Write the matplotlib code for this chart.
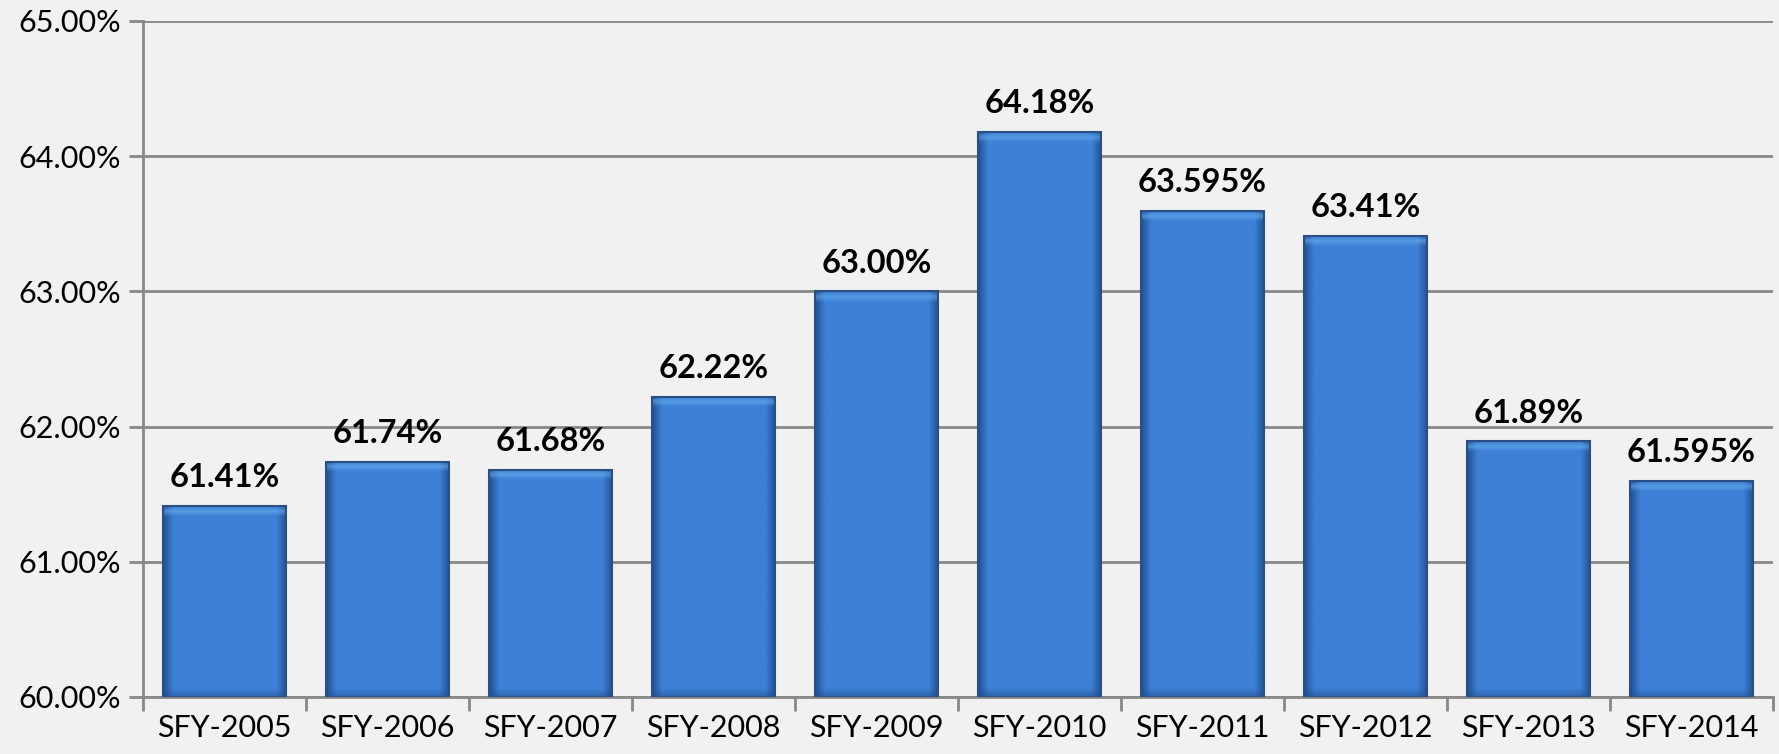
import matplotlib
matplotlib.use("Agg")
import matplotlib.pyplot as plt
import numpy as np

categories = ["SFY-2005", "SFY-2006", "SFY-2007", "SFY-2008", "SFY-2009",
              "SFY-2010", "SFY-2011", "SFY-2012", "SFY-2013", "SFY-2014"]
values = [61.41, 61.74, 61.68, 62.22, 63.00, 64.18, 63.595, 63.41, 61.89, 61.595]
labels = ["61.41%", "61.74%", "61.68%", "62.22%", "63.00%",
          "64.18%", "63.595%", "63.41%", "61.89%", "61.595%"]
yticks = [60, 61, 62, 63, 64, 65]
ytick_labels = ["60.00%", "61.00%", "62.00%", "63.00%", "64.00%", "65.00%"]

plt.rcParams['font.family'] = ['Lato', 'DejaVu Sans']

fig = plt.figure(figsize=(17.79, 7.54), dpi=100, facecolor="#f1f1f1")
ax = fig.add_axes([143/1779, 1 - 697/754, (1773-143)/1779, (697-21)/754])
ax.set_facecolor("#f1f1f1")

x = np.arange(len(categories))
bars = ax.bar(x, [v - 60 for v in values], bottom=60, width=0.76,
              color="#3a78cc", edgecolor="#24508a", linewidth=1.2, zorder=3)

# bevel-like gradient image
h, w = 200, 100
xx = np.linspace(0, 1, w)
yy = np.linspace(0, 1, h)
X, Y = np.meshgrid(xx, yy)
base = np.array([0x3d, 0x80, 0xd6]) / 255.0
dark = np.array([0x1f, 0x4c, 0x8c]) / 255.0
light = np.array([0x6a, 0xb0, 0xf0]) / 255.0
img = np.ones((h, w, 3)) * base
edge = np.clip(np.minimum(X, 1 - X) / 0.08, 0, 1)
img = img * edge[..., None] + dark * (1 - edge[..., None]) * 0.9 + base * (1 - edge[..., None]) * 0.1
for b in bars:
    bx, by = b.get_x(), b.get_y()
    bw, bh = b.get_width(), b.get_height()
    band = 0.06
    im = img.copy()
    ypos = by + bh - (yy * bh)  # row 0 = top
    dtop = (by + bh) - ypos
    hl = np.clip(1 - np.abs(dtop - band * 0.6) / (band * 0.6), 0, 1)
    bot = np.clip(1 - (ypos - by) / 0.06, 0, 1)
    im = im * (1 - hl[:, None, None] * 0.6) + light * hl[:, None, None] * 0.6
    im = im * (1 - bot[:, None, None] * 0.5) + dark * bot[:, None, None] * 0.5
    ai = ax.imshow(im, extent=[bx, bx + bw, by, by + bh], aspect='auto',
                   zorder=3.5, interpolation='bilinear', origin='upper')
    ai.set_clip_path(b)

for b in bars:
    r = plt.Rectangle((b.get_x(), b.get_y()), b.get_width(), b.get_height(),
                      fill=False, edgecolor="#2a4f80", linewidth=1.5, zorder=4)
    ax.add_patch(r)

for xi, v, lab in zip(x, values, labels):
    ax.annotate(lab, (xi, v), xytext=(0, 10), textcoords="offset points",
                ha="center", va="bottom", fontsize=23.5, fontweight="bold",
                color="black", zorder=5)

ax.set_xlim(-0.5, len(categories) - 0.5)
ax.set_ylim(60, 65)
ax.set_yticks(yticks)
ax.set_yticklabels(ytick_labels, fontsize=22)
ax.set_xticks(x)
ax.set_xticklabels(categories, fontsize=22)
ax.set_xticks(np.arange(-0.5, len(categories)), minor=True)
ax.tick_params(axis='x', which='major', length=0, pad=12)
ax.tick_params(axis='x', which='minor', length=10, width=2, color="#888888")
ax.tick_params(axis='y', length=10, width=2, color="#888888", pad=6)
ax.grid(axis='y', color="#888888", linewidth=2, zorder=0)
for s in ["top", "right"]:
    ax.spines[s].set_visible(False)
for s in ["left", "bottom"]:
    ax.spines[s].set_color("#888888")
    ax.spines[s].set_linewidth(2)
ax.set_axisbelow(True)

fig.savefig("out.png", dpi=100, facecolor=fig.get_facecolor())
